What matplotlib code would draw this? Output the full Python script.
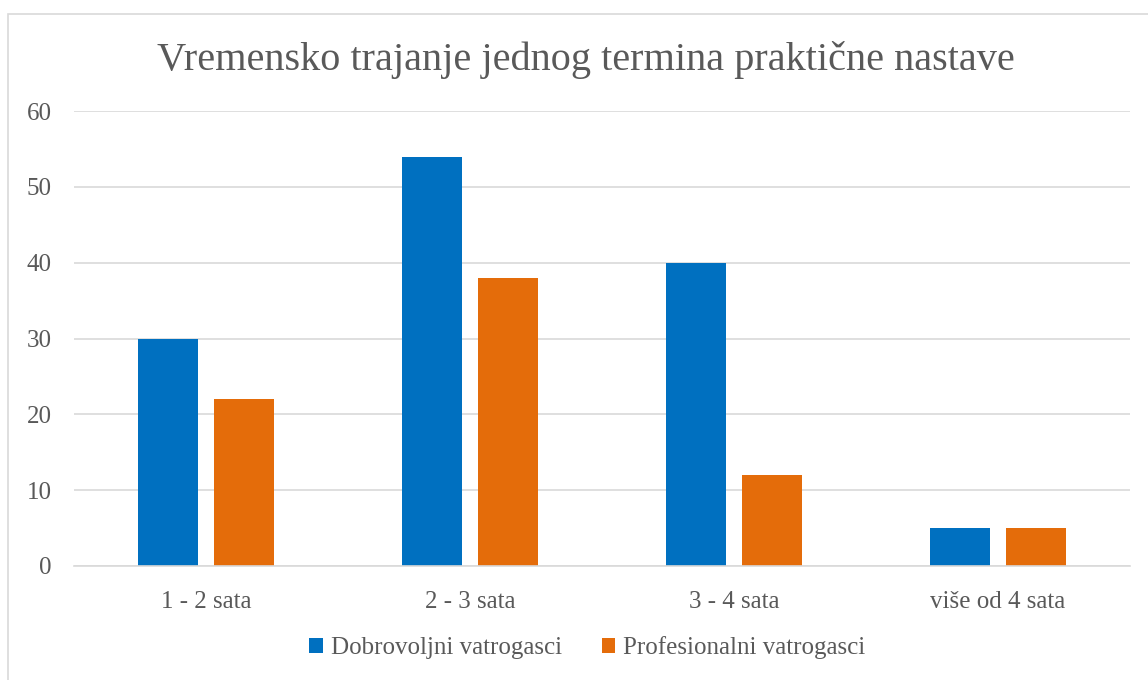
import numpy as np
import matplotlib.pyplot as plt
from matplotlib.patches import Rectangle

plt.rcParams['font.family'] = ['Liberation Serif', 'DejaVu Serif']

categories = ['1 - 2 sata', '2 - 3 sata', '3 - 4 sata', 'više od 4 sata']
dobrovoljni = [30, 54, 40, 5]
profesionalni = [22, 38, 12, 5]
series_names = ['Dobrovoljni vatrogasci', 'Profesionalni vatrogasci']

BLUE = '#0070C0'
ORANGE = '#E46C0A'
TEXT = '#595959'
GRID = '#D9D9D9'

fig = plt.figure(figsize=(11.48, 6.8), dpi=100)
ax = fig.add_axes([74 / 1148, 1 - 566 / 680, 1056 / 1148, 455 / 680])

# outer chart border (partly clipped like the screenshot)
fig.patches.append(Rectangle((8 / 1148, -0.05), 1.2, 1 - 14 / 680 + 0.05,
                             transform=fig.transFigure, fill=False,
                             edgecolor=GRID, linewidth=1.2))

x = np.arange(len(categories))
w = 0.227
off = 0.144
ax.bar(x - off, dobrovoljni, w, color=BLUE, label=series_names[0], zorder=2)
ax.bar(x + off, profesionalni, w, color=ORANGE, label=series_names[1], zorder=2)

ax.set_xlim(-0.5, len(categories) - 0.5)
ax.set_ylim(0, 60)
ax.set_yticks(range(0, 61, 10))
ax.yaxis.grid(True, color=GRID, linewidth=1.2, zorder=0)
ax.set_axisbelow(True)
for s in ['top', 'right', 'left']:
    ax.spines[s].set_visible(False)
ax.spines['bottom'].set_color(GRID)
ax.spines['bottom'].set_linewidth(1.2)
ax.tick_params(length=0, labelsize=18, colors=TEXT, pad=0)
ax.tick_params(axis='y', pad=16)
ax.tick_params(axis='x', pad=18)
ax.set_xticks(x)
ax.set_xticklabels(categories)

fig.text(0.51, 1 - 60 / 680, 'Vremensko trajanje jednog termina praktične nastave',
         ha='center', va='center', fontsize=29, color=TEXT)

leg = ax.legend(loc='center', bbox_to_anchor=(0.486, -0.18), ncol=2, frameon=False,
                fontsize=18, handlelength=0.55, handleheight=0.55,
                handletextpad=0.3, columnspacing=1.6)
for t in leg.get_texts():
    t.set_color(TEXT)

fig.savefig('out.png', dpi=100, facecolor='white')
